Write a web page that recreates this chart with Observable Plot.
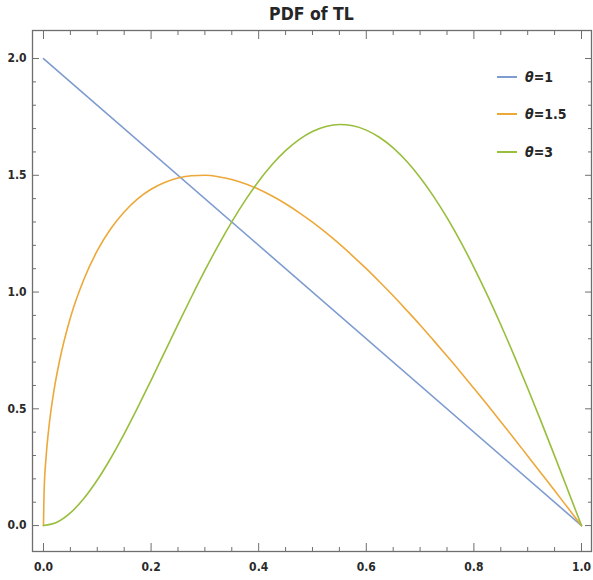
<!DOCTYPE html>
<html>
<head>
<meta charset="utf-8">
<script src="https://cdn.jsdelivr.net/npm/d3@7"></script>
<script src="https://cdn.jsdelivr.net/npm/@observablehq/plot@0.6"></script>
<style>
  html, body { margin: 0; padding: 0; background: #fff; }
  #wrap { position: relative; width: 593px; height: 580px; font-family: "Liberation Sans Narrow", "DejaVu Sans Condensed", sans-serif; }
  #title { position: absolute; left: 32px; width: 559px; top: 4px; text-align: center; font-size: 17.5px; font-weight: bold; color: #262626; }
  #legend { position: absolute; left: 497px; top: 58px; font-size: 14px; font-weight: bold; color: #262626; }
  .item { display: flex; align-items: center; height: 37.5px; }
  .sw { width: 20px; height: 0; border-top: 2px solid; margin-right: 8px; }
  .lab i { font-style: italic; }
</style>
</head>
<body>
<div id="wrap">
  <div id="chart"></div>
  <div id="title">PDF of TL</div>
  <div id="legend"></div>
</div>
<script>
const seriesNames = ["θ=1", "θ=1.5", "θ=3"];
const seriesColors = ["#7E9CCF", "#EDA83A", "#98BE3C"];

const xTheta1 = [0, 1];
const yTheta1 = [2, 0];

const xTheta15 = [0, 0.001, 0.005, 0.01, 0.02, 0.03, 0.05, 0.075, 0.1, 0.125, 0.15, 0.175, 0.2, 0.225, 0.25, 0.275, 0.3, 0.325, 0.35, 0.375, 0.4, 0.425, 0.45, 0.475, 0.5, 0.525, 0.55, 0.575, 0.6, 0.625, 0.65, 0.675, 0.7, 0.725, 0.75, 0.775, 0.8, 0.825, 0.85, 0.875, 0.9, 0.925, 0.95, 0.975, 1];
const yTheta15 = [0, 0.134, 0.298, 0.419, 0.585, 0.707, 0.890, 1.054, 1.177, 1.271, 1.343, 1.399, 1.440, 1.469, 1.488, 1.498, 1.500, 1.494, 1.482, 1.464, 1.440, 1.411, 1.378, 1.340, 1.299, 1.254, 1.206, 1.154, 1.100, 1.043, 0.984, 0.922, 0.859, 0.793, 0.726, 0.658, 0.588, 0.517, 0.445, 0.372, 0.298, 0.224, 0.150, 0.075, 0];

const xTheta3 = [0, 0.025, 0.05, 0.075, 0.1, 0.125, 0.15, 0.175, 0.2, 0.225, 0.25, 0.275, 0.3, 0.325, 0.35, 0.375, 0.4, 0.425, 0.45, 0.475, 0.5, 0.525, 0.55, 0.575, 0.6, 0.625, 0.65, 0.675, 0.7, 0.725, 0.75, 0.775, 0.8, 0.825, 0.85, 0.875, 0.9, 0.925, 0.95, 0.975, 1];
const yTheta3 = [0, 0.0143, 0.0542, 0.1157, 0.1949, 0.2884, 0.3927, 0.5049, 0.6221, 0.7417, 0.8613, 0.9789, 1.0924, 1.2002, 1.3007, 1.3925, 1.4746, 1.5458, 1.6055, 1.6529, 1.6875, 1.7090, 1.7172, 1.7120, 1.6934, 1.6617, 1.6170, 1.5598, 1.4906, 1.4099, 1.3184, 1.2168, 1.1059, 0.9867, 0.8600, 0.7267, 0.5881, 0.4450, 0.2985, 0.1498, 0];

const xMajor = [0, 0.2, 0.4, 0.6, 0.8, 1.0];
const xMinor = [0.05, 0.1, 0.15, 0.25, 0.3, 0.35, 0.45, 0.5, 0.55, 0.65, 0.7, 0.75, 0.85, 0.9, 0.95];
const yMajor = [0, 0.5, 1.0, 1.5, 2.0];
const yMinor = [0.1, 0.2, 0.3, 0.4, 0.6, 0.7, 0.8, 0.9, 1.1, 1.2, 1.3, 1.4, 1.6, 1.7, 1.8, 1.9];

const toRows = (xs, ys, name) => xs.map((x, i) => ({x, y: ys[i], name}));
const rows = [
  ...toRows(xTheta1, yTheta1, seriesNames[0]),
  ...toRows(xTheta15, yTheta15, seriesNames[1]),
  ...toRows(xTheta3, yTheta3, seriesNames[2])
];

const axisColor = "#6e6e6e";
const labelFont = {fontSize: 12, fontWeight: "bold", fill: "#2a2a2a"};
const blank = () => "";

const chart = Plot.plot({
  width: 593,
  height: 580,
  marginLeft: 32,
  marginRight: 2,
  marginTop: 30,
  marginBottom: 29,
  style: {fontFamily: '"Liberation Sans Narrow", "DejaVu Sans Condensed", sans-serif', background: "#fff"},
  x: {domain: [-0.0204, 1.0186]},
  y: {domain: [-0.111, 2.12]},
  color: {domain: seriesNames, range: seriesColors},
  marks: [
    Plot.frame({stroke: axisColor, strokeWidth: 1.3}),
    Plot.axisX({anchor: "bottom", ticks: xMajor, tickSize: -8, tickPadding: 19, stroke: axisColor, tickFormat: d => d.toFixed(1), ...labelFont, label: null}),
    Plot.axisX({anchor: "bottom", ticks: xMinor, tickSize: -4, stroke: axisColor, tickFormat: blank, label: null}),
    Plot.axisX({anchor: "top", ticks: xMajor, tickSize: -8, stroke: axisColor, tickFormat: blank, label: null}),
    Plot.axisX({anchor: "top", ticks: xMinor, tickSize: -4, stroke: axisColor, tickFormat: blank, label: null}),
    Plot.axisY({anchor: "left", ticks: yMajor, tickSize: -7, tickPadding: 13, stroke: axisColor, tickFormat: d => d.toFixed(1), ...labelFont, label: null}),
    Plot.axisY({anchor: "left", ticks: yMinor, tickSize: -4, stroke: axisColor, tickFormat: blank, label: null}),
    Plot.axisY({anchor: "right", ticks: yMajor, tickSize: -7, stroke: axisColor, tickFormat: blank, label: null}),
    Plot.axisY({anchor: "right", ticks: yMinor, tickSize: -4, stroke: axisColor, tickFormat: blank, label: null}),
    Plot.line(rows, {x: "x", y: "y", z: "name", stroke: "name", strokeWidth: 1.6, curve: "monotone-x"})
  ]
});
document.getElementById("chart").appendChild(chart);

const legend = document.getElementById("legend");
seriesNames.forEach((name, i) => {
  const item = document.createElement("div");
  item.className = "item";
  const sw = document.createElement("span");
  sw.className = "sw";
  sw.style.borderTopColor = seriesColors[i];
  const lab = document.createElement("span");
  lab.className = "lab";
  const [sym, rest] = name.split("=");
  lab.innerHTML = `<i>${sym}</i>=${rest}`;
  item.appendChild(sw);
  item.appendChild(lab);
  legend.appendChild(item);
});
</script>
</body>
</html>
